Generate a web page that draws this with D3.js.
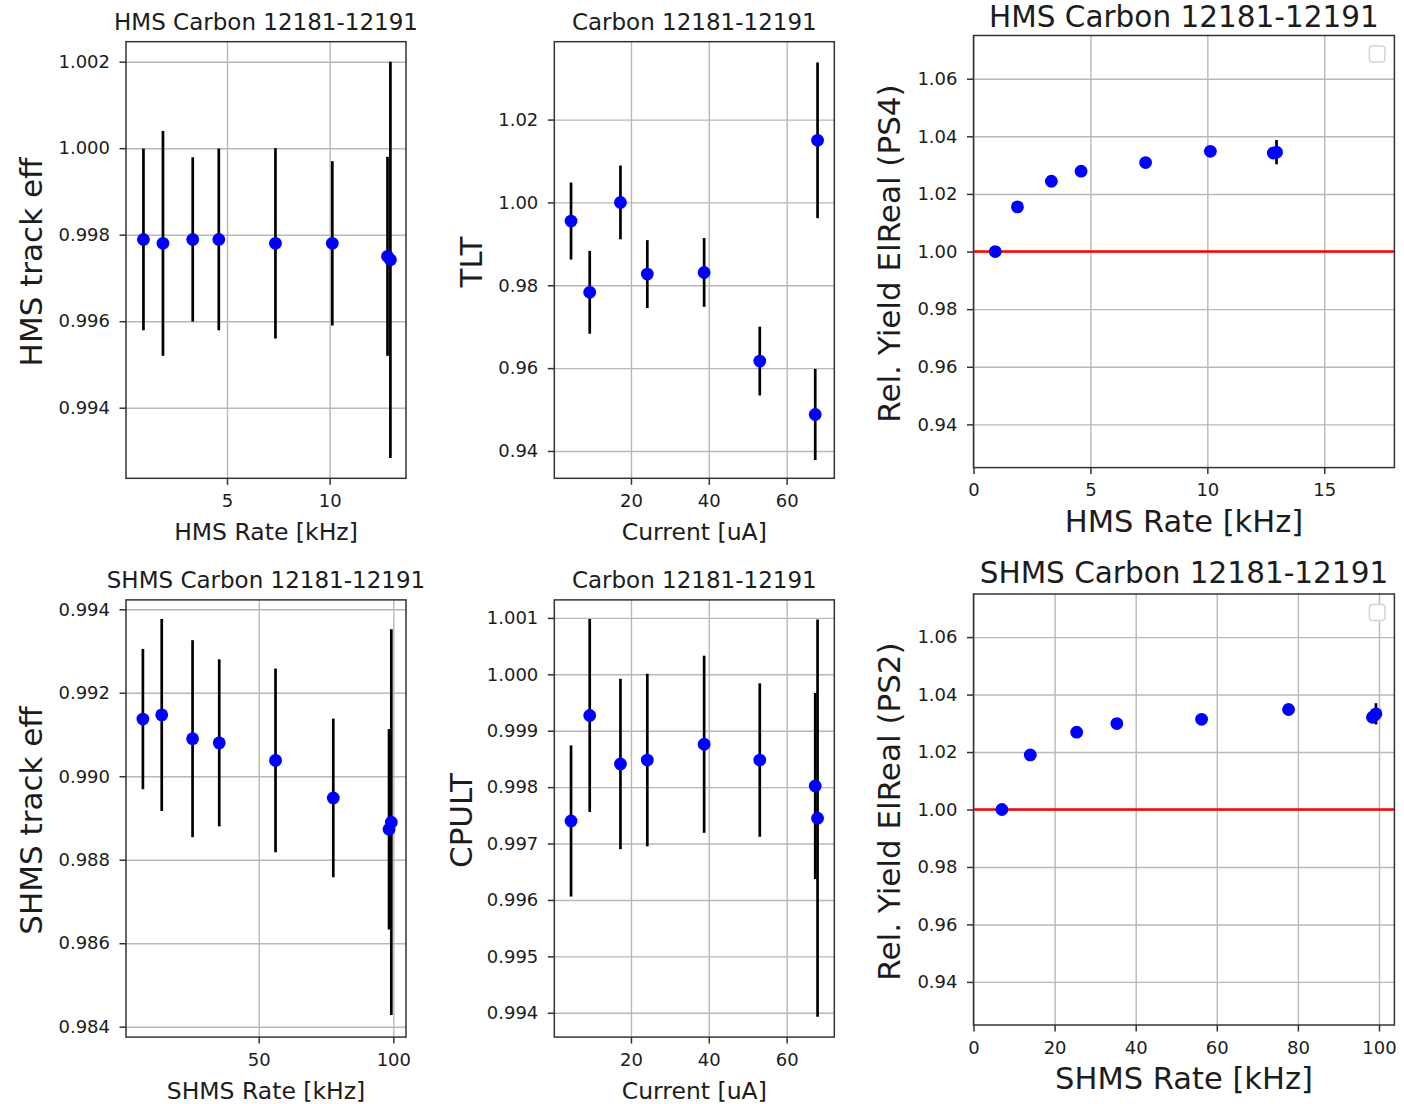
<!DOCTYPE html>
<html><head><meta charset="utf-8">
<script src="https://cdn.jsdelivr.net/npm/d3@7"></script>
<style>
body{margin:0;background:#fff}
svg text{font-family:"DejaVu Sans",sans-serif;fill:#1c1c1c}
</style>
</head><body>
<svg id="chart" width="1404" height="1104"></svg>
<script>
// ---- data ----
const hmsRate  = [0.93, 1.88, 3.33, 4.60, 7.36, 10.13, 12.82, 12.96];
const shmsRate = [7.0, 14.0, 25.45, 35.35, 56.25, 77.7, 98.4, 99.25];
const current  = [4.6, 9.4, 17.3, 24.2, 38.8, 53.1, 67.35, 67.95];

const hmsTrackEff    = [0.99789, 0.99780, 0.99789, 0.99789, 0.99780, 0.99780, 0.99750, 0.99742];
const hmsTrackEffErr = [0.00210, 0.00260, 0.00190, 0.00210, 0.00220, 0.00190, 0.00230, 0.00458];

const tlt    = [0.9955, 0.9783, 1.0000, 0.9827, 0.9831, 0.9617, 0.9488, 1.0150];
const tltErr = [0.0093, 0.0100, 0.0089, 0.0082, 0.0083, 0.0083, 0.0110, 0.0188];

const hmsYield    = [1.0000, 1.0155, 1.0244, 1.0279, 1.0309, 1.0348, 1.0342, 1.0345];
const hmsYieldErr = [0.0003, 0.0010, 0.0008, 0.0008, 0.0008, 0.0008, 0.0015, 0.0042];

const shmsTrackEff    = [0.99137, 0.99147, 0.99090, 0.99080, 0.99038, 0.98948, 0.98873, 0.98890];
const shmsTrackEffErr = [0.00168, 0.00230, 0.00236, 0.00200, 0.00220, 0.00190, 0.00240, 0.00462];

const cpult    = [0.99740, 0.99927, 0.99841, 0.99848, 0.99876, 0.99848, 0.99802, 0.99745];
const cpultErr = [0.00134, 0.00171, 0.00151, 0.00153, 0.00157, 0.00136, 0.00165, 0.00352];

const shmsYield    = [1.0000, 1.0190, 1.0269, 1.0299, 1.0314, 1.0348, 1.0321, 1.0333];
const shmsYieldErr = [0.0003, 0.0008, 0.0007, 0.0007, 0.0007, 0.0007, 0.0015, 0.0037];

// tick values
const hmsRateTicks   = [5, 10];
const shmsRateTicks  = [50, 100];
const currentTicks   = [20, 40, 60];
const hmsRateTicks3  = [0, 5, 10, 15];
const shmsRateTicks3 = [0, 20, 40, 60, 80, 100];
const effTicksHMS    = [0.994, 0.996, 0.998, 1.000, 1.002];
const effTicksSHMS   = [0.984, 0.986, 0.988, 0.990, 0.992, 0.994];
const tltTicks       = [0.94, 0.96, 0.98, 1.00, 1.02];
const cpultTicks     = [0.994, 0.995, 0.996, 0.997, 0.998, 0.999, 1.000, 1.001];
const yieldTicks     = [0.94, 0.96, 0.98, 1.00, 1.02, 1.04, 1.06];

const title1 = "HMS Carbon 12181-12191";
const title2 = "Carbon 12181-12191";
const title4 = "SHMS Carbon 12181-12191";

// ---- panel layout ----
const C12 = {titleSize: 23, xlabSize: 23.5, titleOff: 11.7, xlabOff: 62};
const C3  = {titleSize: 29.5, xlabSize: 30.5, titleOff: 8.5, xlabOff: 64};

const panels = [
  {box:[126,406,41.7,478.3], xd:[0.08,13.72], yd:[0.992368,1.002462], xt:hmsRateTicks, yt:effTicksHMS, yf:".3f",
   x:hmsRate, y:hmsTrackEff, e:hmsTrackEffErr, title:title1, xlab:"HMS Rate [kHz]", ylab:"HMS track eff", ylabX:41.7, ...C12},
  {box:[554.3,834.3,41.7,478.3], xd:[0.3,72.25], yd:[0.9334,1.0388], xt:currentTicks, yt:tltTicks, yf:".2f",
   x:current, y:tlt, e:tltErr, title:title2, xlab:"Current [uA]", ylab:"TLT", ylabX:482, ...C12},
  {box:[973.5,1394.4,35.5,467.6], xd:[0,18], yd:[0.925,1.075], xt:hmsRateTicks3, yt:yieldTicks, yf:".2f",
   x:hmsRate, y:hmsYield, e:hmsYieldErr, title:title1, xlab:"HMS Rate [kHz]", ylab:"Rel. Yield ElReal (PS4)", ylabX:900, ref:1, legend:true, ...C3},
  {box:[126,406,599.9,1037.1], xd:[0.73,104.7], yd:[0.983751,0.994225], xt:shmsRateTicks, yt:effTicksSHMS, yf:".3f",
   x:shmsRate, y:shmsTrackEff, e:shmsTrackEffErr, title:title4, xlab:"SHMS Rate [kHz]", ylab:"SHMS track eff", ylabX:41.7, ...C12},
  {box:[554.3,834.3,599.9,1037.1], xd:[0.3,72.25], yd:[0.993569,1.001319], xt:currentTicks, yt:cpultTicks, yf:".3f",
   x:current, y:cpult, e:cpultErr, title:title2, xlab:"Current [uA]", ylab:"CPULT", ylabX:471.7, ...C12},
  {box:[973.5,1394.4,594,1025], xd:[0,103.8], yd:[0.925,1.075], xt:shmsRateTicks3, yt:yieldTicks, yf:".2f",
   x:shmsRate, y:shmsYield, e:shmsYieldErr, title:title4, xlab:"SHMS Rate [kHz]", ylab:"Rel. Yield ElReal (PS2)", ylabX:900, ref:1, legend:true, ...C3, titleOff: 11}
];

const svg = d3.select("#chart");
svg.append("rect").attr("width",1404).attr("height",1104).attr("fill","#fff");

panels.forEach(p => {
  const [x0,x1,y0,y1] = p.box;
  const w = x1-x0, h = y1-y0;
  const xs = d3.scaleLinear().domain(p.xd).range([0,w]);
  const ys = d3.scaleLinear().domain(p.yd).range([h,0]);
  const g = svg.append("g").attr("transform",`translate(${x0},${y0})`);

  // grid
  const gx = g.append("g").attr("transform",`translate(0,${h})`)
    .call(d3.axisBottom(xs).tickValues(p.xt).tickSize(-h).tickFormat(""));
  const gy = g.append("g")
    .call(d3.axisLeft(ys).tickValues(p.yt).tickSize(-w).tickFormat(""));
  [gx,gy].forEach(a=>{a.select(".domain").remove();
    a.selectAll("line").attr("stroke","#b8b8b8").attr("stroke-width",1.4);});

  // reference line
  if (p.ref !== undefined) {
    g.append("line").attr("x1",0).attr("x2",w).attr("y1",ys(p.ref)).attr("y2",ys(p.ref))
      .attr("stroke","#ff0000").attr("stroke-width",2.6);
  }

  const pts = p.x.map((v,i)=>({x:v, y:p.y[i], e:p.e[i]}));
  // error bars
  g.append("g").selectAll("line").data(pts).join("line")
    .attr("x1",d=>xs(d.x)).attr("x2",d=>xs(d.x))
    .attr("y1",d=>ys(d.y-d.e)).attr("y2",d=>ys(d.y+d.e))
    .attr("stroke","#000").attr("stroke-width",2.7);
  // markers
  g.append("g").selectAll("circle").data(pts).join("circle")
    .attr("cx",d=>xs(d.x)).attr("cy",d=>ys(d.y)).attr("r",6.4)
    .attr("fill","#0000ff");

  // spines
  g.append("rect").attr("x",0).attr("y",0).attr("width",w).attr("height",h)
    .attr("fill","none").attr("stroke","#333").attr("stroke-width",1.5);

  // axes
  const ax = g.append("g").attr("transform",`translate(0,${h})`)
    .call(d3.axisBottom(xs).tickValues(p.xt).tickSize(6.5).tickPadding(9.5).tickFormat(d3.format("d")));
  const ay = g.append("g")
    .call(d3.axisLeft(ys).tickValues(p.yt).tickSize(6.5).tickPadding(9.5).tickFormat(d3.format(p.yf)));
  [ax,ay].forEach(a=>{
    a.select(".domain").remove();
    a.attr("font-size",18).attr("font-family","DejaVu Sans");
    a.selectAll("line").attr("stroke","#333").attr("stroke-width",1.5);
    a.selectAll("text").attr("fill","#262626");
  });

  // legend (empty)
  if (p.legend) {
    g.append("rect").attr("x",w-25).attr("y",10.5).attr("width",15.5).attr("height",16)
      .attr("rx",3).attr("fill","#fff").attr("stroke","#d4d4d4").attr("stroke-width",1.5);
  }

  // texts
  svg.append("text").attr("x",x0+w/2).attr("y",y0-p.titleOff).attr("text-anchor","middle")
    .attr("font-size",p.titleSize).text(p.title);
  svg.append("text").attr("x",x0+w/2).attr("y",y1+p.xlabOff).attr("text-anchor","middle")
    .attr("font-size",p.xlabSize).text(p.xlab);
  svg.append("text").attr("transform",`translate(${p.ylabX},${y0+h/2+2}) rotate(-90)`)
    .attr("text-anchor","middle").attr("font-size",31).text(p.ylab);
});
</script>
</body></html>
